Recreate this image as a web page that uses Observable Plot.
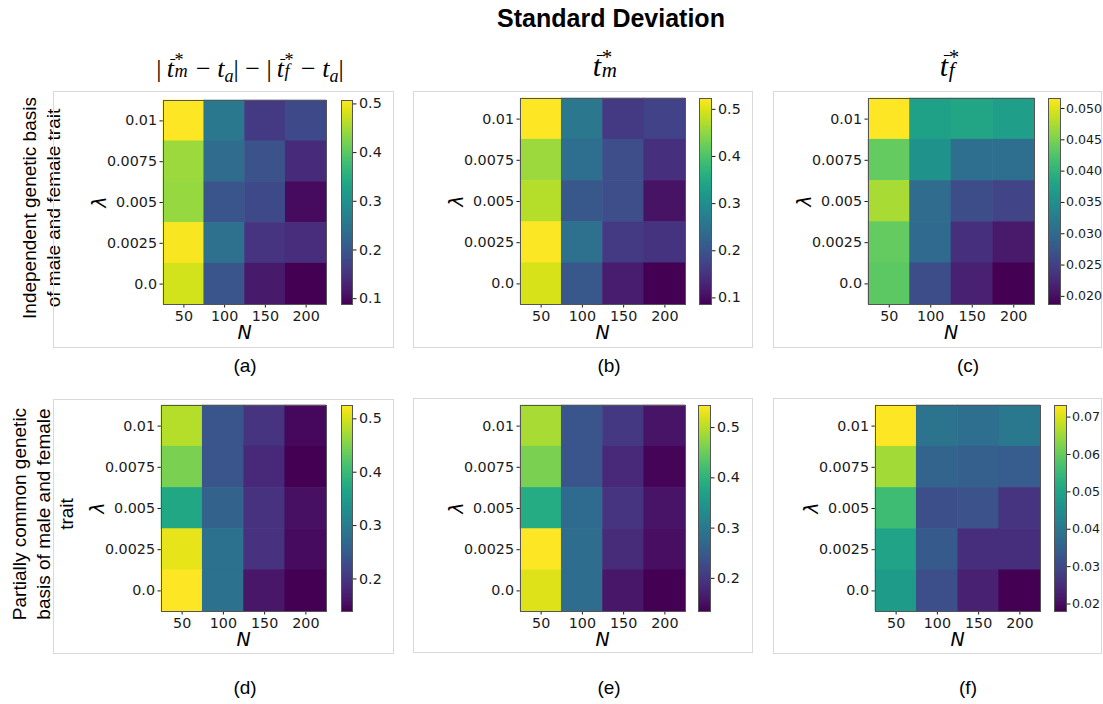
<!DOCTYPE html>
<html>
<head>
<meta charset="utf-8">
<script src="https://cdn.jsdelivr.net/npm/d3@7"></script>
<script src="https://cdn.jsdelivr.net/npm/@observablehq/plot@0.6"></script>
<style>
  body { margin: 0; background: #fff; }
  #fig { position: relative; width: 1103px; height: 704px; overflow: hidden; background: #fff;
         font-family: "Liberation Sans", Arial, sans-serif; color: #000; }
  .box { position: absolute; border: 1px solid #d9d9d9; box-sizing: border-box; }
  .abs { position: absolute; }
  .abs svg { overflow: visible; display: block; max-width: none !important; }
  .title { position: absolute; left: 611px; top: 4px; transform: translateX(-50%); font-weight: bold; font-size: 25px; white-space: nowrap; }
  .cap { position: absolute; transform: translate(-50%, -50%); font-size: 19px; white-space: nowrap; }
  .rowlab { position: absolute; width: 320px; text-align: center; font-size: 19px; line-height: 23.5px;
            transform: translate(-50%, -50%) rotate(-90deg); white-space: nowrap; }
  .axl { position: absolute; font-family: "DejaVu Sans", sans-serif; font-style: italic; font-size: 19px;
         transform: translate(-50%, -50%); line-height: 1; }
  .axl.rot { transform: translate(-50%, -50%) rotate(-90deg); }
  .mt { position: absolute; font-family: "Liberation Serif", "DejaVu Serif", serif; white-space: nowrap;
        transform: translateX(-50%); line-height: 1; }
  .mt i, .tb { font-style: italic; }
  .tb { position: relative; display: inline-block; }
  .tb::before { content: ""; position: absolute; left: 0.14em; right: -0.04em; top: 0.13em; border-top: 0.055em solid #000; }
  .ss { display: inline-block; position: relative; height: 1em; vertical-align: baseline; }
  .ss .sp { position: absolute; left: 0.03em; top: 0.13em; font-size: 0.7em; line-height: 0.8; font-style: normal; }
  .ss .sb { position: absolute; left: 0.03em; top: 0.74em; font-size: 0.7em; line-height: 0.8; font-style: italic; }
  .mt sub { font-style: italic; font-size: 0.7em; vertical-align: -0.3em; line-height: 0; }
</style>
</head>
<body>
<div id="fig"></div>
<script>
// ---------- data ----------
const Ns = ["50", "100", "150", "200"];
const lambdas = ["0.01", "0.0075", "0.005", "0.0025", "0.0"]; // top to bottom

// rows: lambda (top→bottom), columns: N
const valuesA = [
  [0.507, 0.256, 0.159, 0.180],
  [0.444, 0.235, 0.193, 0.138],
  [0.440, 0.197, 0.180, 0.100],
  [0.503, 0.243, 0.151, 0.142],
  [0.478, 0.197, 0.117, 0.088]
];
const valuesB = [
  [0.523, 0.260, 0.160, 0.173],
  [0.457, 0.243, 0.190, 0.147],
  [0.475, 0.204, 0.190, 0.108],
  [0.520, 0.248, 0.160, 0.150],
  [0.497, 0.204, 0.121, 0.086]
];
const valuesC = [
  [0.0516, 0.0375, 0.0380, 0.0370],
  [0.0437, 0.0355, 0.0305, 0.0305],
  [0.0473, 0.0302, 0.0263, 0.0253],
  [0.0437, 0.0299, 0.0233, 0.0210],
  [0.0433, 0.0263, 0.0217, 0.0187]
];
const valuesD = [
  [0.482, 0.240, 0.197, 0.147],
  [0.447, 0.240, 0.182, 0.139],
  [0.369, 0.260, 0.194, 0.155],
  [0.510, 0.283, 0.194, 0.151],
  [0.525, 0.283, 0.162, 0.139]
];
const valuesE = [
  [0.490, 0.242, 0.200, 0.155],
  [0.461, 0.242, 0.180, 0.138],
  [0.387, 0.275, 0.196, 0.155],
  [0.544, 0.279, 0.184, 0.150],
  [0.523, 0.279, 0.159, 0.134]
];
const valuesF = [
  [0.0731, 0.0390, 0.0378, 0.0400],
  [0.0654, 0.0356, 0.0345, 0.0340],
  [0.0560, 0.0312, 0.0318, 0.0263],
  [0.0500, 0.0334, 0.0252, 0.0252],
  [0.0483, 0.0312, 0.0230, 0.0180]
];

const ticksA = [0.1, 0.2, 0.3, 0.4, 0.5];
const ticksB = [0.1, 0.2, 0.3, 0.4, 0.5];
const ticksC = [0.020, 0.025, 0.030, 0.035, 0.040, 0.045, 0.050];
const ticksD = [0.2, 0.3, 0.4, 0.5];
const ticksE = [0.2, 0.3, 0.4, 0.5];
const ticksF = [0.02, 0.03, 0.04, 0.05, 0.06, 0.07];

const captions = ["(a)", "(b)", "(c)", "(d)", "(e)", "(f)"];
const rowLabels = ["Independent genetic basis<br>of male and female trait",
                   "Partially common genetic<br>basis of male and female<br>trait"];
const figTitle = "Standard Deviation";

// ---------- layout ----------
const fig = document.getElementById("fig");
function add(html, cls, style) {
  const d = document.createElement("div");
  d.className = cls;
  Object.assign(d.style, style);
  d.innerHTML = html;
  fig.appendChild(d);
  return d;
}

const panels = [
  {vals: valuesA, ticks: ticksA, fmt: ".1f", cbFont: 14.3, box: [53, 91, 341, 257], hx: 163, hy: 100, hw: 163, hh: 204, cbx: 341, cbw: 11, cap: [245, 366]},
  {vals: valuesB, ticks: ticksB, fmt: ".1f", cbFont: 14.3, box: [413, 91, 340, 257], hx: 520, hy: 98, hw: 165, hh: 206, cbx: 699, cbw: 12, cap: [609, 366]},
  {vals: valuesC, ticks: ticksC, fmt: ".3f", cbFont: 12.6, box: [773, 91, 329, 257], hx: 868, hy: 98, hw: 166, hh: 206, cbx: 1048, cbw: 12, cap: [968, 366]},
  {vals: valuesD, ticks: ticksD, fmt: ".1f", cbFont: 14.3, box: [53, 399, 341, 255], hx: 161, hy: 405, hw: 165, hh: 206, cbx: 341, cbw: 11, cap: [245, 688]},
  {vals: valuesE, ticks: ticksE, fmt: ".1f", cbFont: 14.3, box: [413, 398, 340, 255], hx: 520, hy: 405, hw: 165, hh: 206, cbx: 698, cbw: 12, cap: [609, 688]},
  {vals: valuesF, ticks: ticksF, fmt: ".2f", cbFont: 12.6, box: [773, 398, 329, 256], hx: 875, hy: 405, hw: 165, hh: 206, cbx: 1054, cbw: 12, cap: [968, 688]}
];

add(figTitle, "title", {});

// column titles (mathtext-like)
const tbar = (sub, w) => `<span class="tb">t</span><span class="ss" style="width:${w}em"><span class="sp">*</span><span class="sb">${sub}</span></span>`;
add(`|&#8201;${tbar("m", 0.6)} &#8722; <i>t</i><sub>a</sub>| &#8722; |&#8201;${tbar("f", 0.4)} &#8722; <i>t</i><sub>a</sub>|`, "mt",
    {left: "250px", top: "51px", fontSize: "26px"});
add(tbar("m", 0.6), "mt", {left: "606px", top: "46px", fontSize: "30px"});
add(tbar("f", 0.4), "mt", {left: "950px", top: "46px", fontSize: "30px"});

// row labels
add(rowLabels[0], "rowlab", {left: "41px", top: "208px"});
add(rowLabels[1], "rowlab", {left: "43px", top: "514px"});

const baseStyle = {fontFamily: "DejaVu Sans, sans-serif", fontSize: "14.3px", color: "#1a1a1a", background: "transparent", overflow: "visible"};

panels.forEach((p, k) => {
  const [bx, by, bw, bh] = p.box;
  add("", "box", {left: bx + "px", top: by + "px", width: bw + "px", height: bh + "px"});

  const data = lambdas.flatMap((l, i) => Ns.map((n, j) => ({N: n, lambda: l, value: p.vals[i][j]})));
  const all = p.vals.flat();
  const lo = d3.min(all), hi = d3.max(all);
  const color = {type: "linear", scheme: "viridis", domain: [lo, hi]};

  const mL = 72, mR = 1, mT = 1, mB = 30;
  const W = mL + p.hw + mR, H = mT + p.hh + mB;
  const heat = Plot.plot({
    width: W, height: H,
    marginLeft: mL, marginRight: mR, marginTop: mT, marginBottom: mB,
    style: baseStyle,
    x: {type: "band", domain: Ns, padding: 0, round: false, label: null, tickSize: 3.5, tickPadding: 3},
    y: {type: "band", domain: lambdas, padding: 0, round: false, label: null, tickSize: 3.5, tickPadding: 3},
    color,
    marks: [
      Plot.cell(data, {x: "N", y: "lambda", fill: "value", inset: -0.3}),
      Plot.frame({stroke: "#555", strokeWidth: 1})
    ]
  });
  const hd = add("", "abs", {left: (p.hx - mL) + "px", top: (p.hy - mT) + "px", width: W + "px", height: H + "px"});
  hd.appendChild(heat);

  // colour bar
  const cR = 50;
  const cW = 1 + p.cbw + cR, cH = mT + p.hh + 1;
  const cbMarks = [];
  if (Plot.raster) {
    cbMarks.push(Plot.raster({x1: 0, x2: 1, y1: lo, y2: hi, width: 1, height: 256, fill: (x, y) => y, imageRendering: "auto"}));
  } else {
    const stops = d3.range(0, 128).map(i => lo + (hi - lo) * i / 128);
    cbMarks.push(Plot.rect(stops, {x1: 0, x2: 1, y1: d => d, y2: d => d + (hi - lo) / 128 * 1.02, fill: d => d}));
  }
  cbMarks.push(Plot.frame({stroke: "#555", strokeWidth: 1}));
  const cb = Plot.plot({
    width: cW, height: cH,
    marginLeft: 1, marginRight: cR, marginTop: mT, marginBottom: 1,
    style: {...baseStyle, fontSize: p.cbFont + "px"},
    x: {domain: [0, 1], axis: null},
    y: {domain: [lo, hi], axis: "right", ticks: p.ticks, tickFormat: d3.format(p.fmt), tickSize: 3.5, tickPadding: p.cbFont < 14 ? 2 : 3, label: null},
    color,
    marks: cbMarks
  });
  const cd = add("", "abs", {left: (p.cbx - 1) + "px", top: (p.hy - mT) + "px", width: cW + "px", height: cH + "px"});
  cd.appendChild(cb);

  // axis labels
  add("N", "axl", {left: (p.hx + p.hw / 2) + "px", top: (p.hy + p.hh + 28) + "px"});
  add("λ", "axl rot", {left: (p.hx - 64) + "px", top: (p.hy + p.hh / 2) + "px"});

  add(captions[k], "cap", {left: p.cap[0] + "px", top: p.cap[1] + "px"});
});
</script>
</body>
</html>
